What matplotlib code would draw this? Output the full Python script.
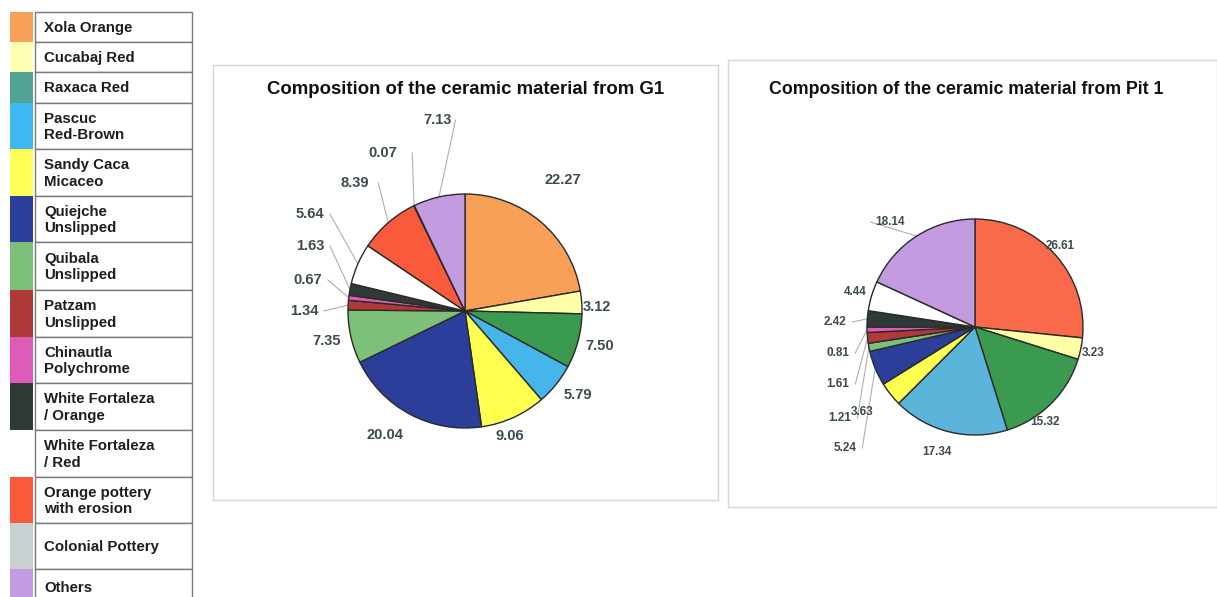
import numpy as np
import matplotlib
matplotlib.use("Agg")
import matplotlib.pyplot as plt
from matplotlib.patches import Rectangle

plt.rcParams['font.family'] = ['Liberation Sans', 'DejaVu Sans']

# ---------------- data ----------------
categories = ["Xola Orange", "Cucabaj Red", "Raxaca Red", "Pascuc\nRed-Brown",
              "Sandy Caca\nMicaceo", "Quiejche\nUnslipped", "Quibala\nUnslipped",
              "Patzam\nUnslipped", "Chinautla\nPolychrome", "White Fortaleza\n/ Orange",
              "White Fortaleza\n/ Red", "Orange pottery\nwith erosion",
              "Colonial Pottery", "Others"]
g1_values = [22.27, 3.12, 7.50, 5.79, 9.06, 20.04, 7.35, 1.34, 0.67, 1.63,
             5.64, 8.39, 0.07, 7.13]
pit1_values = [26.61, 3.23, 15.32, 17.34, 3.63, 5.24, 1.21, 1.61, 0.81, 2.42,
               4.44, 0.0, 0.0, 18.14]
g1_title = "Composition of the ceramic material from G1"
pit1_title = "Composition of the ceramic material from Pit 1"

# ---------------- style ----------------
legend_colors = ["#F9A058", "#FFFFB4", "#4FA294", "#3DB8F0", "#FFFF55", "#2B3F9A",
                 "#7DC07A", "#B03A3A", "#DE5BB8", "#2F3A38", "#FFFFFF", "#F95A3C",
                 "#C8D0D2", "#C39BE0"]
g1_colors = ["#F9A058", "#FFFFA8", "#3A9A50", "#45B5EA", "#FFFF50", "#2B3F9A",
             "#7DC07A", "#B03A3A", "#DE5BB8", "#2F3A38", "#FFFFFF", "#F95A3C",
             "#C8D0D2", "#C39BE0"]
pit1_colors = ["#F86A4A", "#FFFFA8", "#3A9A50", "#5BB5DA", "#FFFF50", "#2B3F9A",
               "#7DC07A", "#B03A3A", "#DE5BB8", "#2F3A38", "#FFFFFF", "#F95A3C",
               "#C8D0D2", "#C39BE0"]

W, H = 1217, 597
fig = plt.figure(figsize=(W / 100, H / 100), dpi=100)
fig.patch.set_facecolor("white")

# overlay axes in pixel coordinates for legend
lax = fig.add_axes([0, 0, 1, 1])
lax.set_xlim(0, W)
lax.set_ylim(H, 0)
lax.axis("off")

row_edges = [12, 42, 72, 103, 149, 196, 242, 290, 337, 383, 430, 477, 523, 569, 605]
for i, name in enumerate(categories):
    y0, y1 = row_edges[i], row_edges[i + 1]
    lax.add_patch(Rectangle((10, y0), 23, y1 - y0, facecolor=legend_colors[i],
                            edgecolor="none", zorder=1))
    lax.add_patch(Rectangle((35, y0), 157, y1 - y0, facecolor="white",
                            edgecolor="#7A7A7A", lw=1.0, zorder=2))
    lax.text(44, (y0 + y1) / 2 + 1, name, ha="left", va="center", fontsize=10.8,
             fontweight="bold", color="#1E1E1E", linespacing=1.2, zorder=3)


def draw_panel(px_box, center, r, values, colors, title, title_pos, title_size,
               label_px, leaders, fsize):
    x0, y0, x1, y1 = px_box
    ax = fig.add_axes([x0 / W, 1 - y1 / H, (x1 - x0) / W, (y1 - y0) / H])
    cx, cy = center
    vals = [v for v in values if v > 0]
    cols = [c for v, c in zip(values, colors) if v > 0]
    wedges, _ = ax.pie(vals, colors=cols, startangle=90, counterclock=False,
                       radius=1.0, center=(0, 0), frame=True,
                       wedgeprops=dict(edgecolor="#2A2A2A", linewidth=1.0))
    ax.set_aspect("auto")
    ax.set_xlim((x0 - cx) / r, (x1 - cx) / r)
    ax.set_ylim((cy - y1) / r, (cy - y0) / r)
    ax.set_xticks([])
    ax.set_yticks([])
    for s in ax.spines.values():
        s.set_color("#D6D6D6")
        s.set_linewidth(1.0)
    ax.text((title_pos[0] - cx) / r, (cy - title_pos[1]) / r, title,
            ha="center", va="center", fontsize=title_size, fontweight="bold",
            color="#111111")
    for w, v, (lx, ly), lead in zip(wedges, vals, label_px, leaders):
        tx, ty = (lx - cx) / r, (cy - ly) / r
        ax.text(tx, ty, f"{v:.2f}", ha="center", va="center", fontsize=fsize,
                fontweight="bold", color="#3B4B4E")
        if lead:
            ang = np.deg2rad((w.theta1 + w.theta2) / 2)
            ex, ey = np.cos(ang), np.sin(ang)
            sx = tx + lead
            ax.plot([sx, ex], [ty, ey], color="#B0B0B0", lw=0.8, zorder=0.5)
    return ax


g1_label_px = [(563, 180), (597, 307), (600, 346), (578, 395), (510, 436),
               (385, 435), (327, 341), (304, 311), (308, 280), (310, 246),
               (310, 214), (355, 183), (383, 153), (438, 120)]
g1_leaders = [0, 0, 0, 0, 0, 0, 0, 0.17, 0.17, 0.17, 0.17, 0.2, 0.25, 0.15]
draw_panel((213, 65, 718, 500), (465, 311), 117, g1_values, g1_colors, g1_title,
           (466, 90), 13.4, g1_label_px, g1_leaders, 10.5)

pit1_label_px = [(1060, 246), (1093, 353), (1045, 422), (937, 452), (862, 412),
                 (845, 448), (840, 418), (838, 384), (838, 353), (835, 322),
                 (855, 292), (890, 222)]
pit1_leaders = [0, 0, 0, 0, 0, 0.16, 0.16, 0.16, 0.16, 0.16, 0.18, -0.18]
draw_panel((728, 60, 1217, 507), (975, 327), 108, pit1_values, pit1_colors,
           pit1_title, (966, 90), 12.8, pit1_label_px, pit1_leaders, 8.5)

fig.savefig("out.png", dpi=100, facecolor="white")
